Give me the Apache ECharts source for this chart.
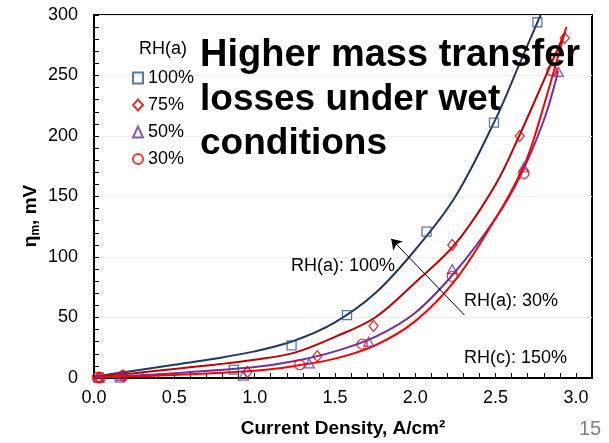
<!DOCTYPE html>
<html>
<head>
<meta charset="utf-8">
<script src="https://cdn.jsdelivr.net/npm/echarts@6/dist/echarts.min.js"></script>
<style>
html,body{margin:0;padding:0;background:#fff;}
#chart{width:609px;height:443px;}
</style>
</head>
<body>
<div id="chart"></div>
<script>
// ---- Data ----
const legendTitle = 'RH(a)';
const seriesNames = ['100%', '75%', '50%', '30%'];
const yTicks = [0, 50, 100, 150, 200, 250, 300];
const xTicks = [0.0, 0.5, 1.0, 1.5, 2.0, 2.5, 3.0];

// measured points [current density A/cm2, eta_m mV]
const pts100 = [[0.03,0.5],[0.16,0.3],[0.87,7],[1.23,27],[1.575,52],[2.07,121],[2.49,211],[2.76,294]];
const pts75  = [[0.03,0.5],[0.18,2],[0.955,5],[1.39,18],[1.74,43],[2.23,110],[2.65,200],[2.93,281]];
const pts50  = [[0.03,0.5],[0.17,1.5],[0.93,2],[1.34,12],[1.71,30],[2.23,90],[2.675,174],[2.89,253]];
const pts30  = [[0.02,0.5],[0.04,0.3],[0.18,2],[1.28,11],[1.67,28],[2.23,84],[2.675,169],[2.85,254]];

// fitted curves
const fit100 = [[0,1],[0.25,6],[0.5,11],[0.75,16],[1.0,22],[1.25,31],[1.5,46],[1.75,70],[2.0,106],[2.25,150],[2.5,214],[2.65,260],[2.78,300]];
const fit75  = [[0,1],[0.25,4],[0.5,7.5],[0.75,11],[1.0,15],[1.25,21],[1.5,34],[1.75,50],[2.0,79],[2.25,111],[2.5,160],[2.65,201],[2.8,246],[2.93,285]];
const fit50  = [[0,0.5],[0.5,4],[1.0,9],[1.25,14],[1.5,22],[1.75,34],[2.0,54],[2.25,88],[2.5,132],[2.65,166],[2.8,213],[2.89,254]];
const fit30  = [[0,0.5],[0.5,2.5],[1.0,6],[1.25,10],[1.5,16],[1.75,27],[2.0,47],[2.25,81],[2.5,132],[2.6,155],[2.7,183],[2.8,225],[2.94,290]];

// annotation arrow (data coords): tail -> head
const arrowTail = [2.306, 52];
const arrowHead = [1.85, 115];

const FONT = '"Liberation Sans", Arial, sans-serif';
const lineColors = ['#1f3864', '#c00000', '#7030a0', '#ff0000'];
const markColors = ['#2f5597', '#d00000', '#7030a0', '#ff0000'];
const symbols = ['rect', 'diamond', 'triangle', 'circle'];
const symSizes = [9, [9,11], [10,9], 10];

const chart = echarts.init(document.getElementById('chart'), null, {renderer: 'canvas'});

const pts = [pts100, pts75, pts50, pts30];
const fits = [fit100, fit75, fit50, fit30];

const series = [];
fits.forEach((f, i) => {
  series.push({
    type: 'line', name: 'fit' + i, data: f, smooth: 0.35, showSymbol: false,
    lineStyle: {color: lineColors[i], width: 2}, itemStyle: {color: lineColors[i]},
    z: 2, silent: true, clip: true
  });
});
pts.forEach((p, i) => {
  series.push({
    type: 'scatter', name: seriesNames[i], data: p, symbol: symbols[i], symbolSize: symSizes[i],
    itemStyle: {color: 'rgba(255,255,255,0)', borderColor: markColors[i], borderWidth: 1.3},
    z: 3
  });
});
// arrow annotation
series.push({
  type: 'scatter', name: 'arrow', data: [], silent: true,
  markLine: {
    silent: true, symbol: ['none', 'arrow'], symbolSize: 10,
    lineStyle: {color: '#000', width: 1, type: 'solid'},
    label: {show: false},
    emphasis: {disabled: true},
    data: [[{coord: arrowTail}, {coord: arrowHead}]]
  }
});

const option = {
  animation: false,
  backgroundColor: '#fff',
  grid: {left: 94, right: 17, top: 15, bottom: 59, show: true, borderColor: '#000', borderWidth: 2, containLabel: false},
  legend: {
    data: seriesNames, orient: 'vertical', left: 127, top: 64,
    itemWidth: 10, itemHeight: 11, itemGap: 9,
    textStyle: {fontFamily: FONT, fontSize: 18, color: '#000', lineHeight: 16},
    selectedMode: false
  },
  xAxis: {
    type: 'value', min: 0, max: 3.1, interval: 0.1,
    name: 'Current Density, A/cm²', nameLocation: 'middle', nameGap: 41,
    nameTextStyle: {fontFamily: FONT, fontSize: 19, fontWeight: 'bold', color: '#000'},
    axisLine: {show: true, lineStyle: {color: '#000', width: 2}},
    axisTick: {show: true, inside: true, length: 5, lineStyle: {color: '#000', width: 1}},
    axisLabel: {
      fontFamily: FONT, fontSize: 18, color: '#000', margin: 11, showMaxLabel: false,
      formatter: v => { const m = xTicks.find(t => Math.abs(t - v) < 1e-6); return m === undefined ? '' : m.toFixed(1); }
    },
    splitLine: {show: false}
  },
  yAxis: {
    type: 'value', min: yTicks[0], max: yTicks[yTicks.length - 1], interval: 50,
    axisLine: {show: true, lineStyle: {color: '#000', width: 2}},
    axisTick: {show: true, inside: true, length: 5, lineStyle: {color: '#000', width: 1}},
    minorTick: {show: true, splitNumber: 5, length: 5, lineStyle: {color: '#000', width: 1}},
    axisLabel: {fontFamily: FONT, fontSize: 18, color: '#000', margin: 16},
    splitLine: {show: true, lineStyle: {color: '#eeeeee', width: 1}}
  },
  graphic: [
    {type: 'text', x: 31, y: 216, rotation: Math.PI / 2, z: 10,
     style: {text: '{a|η}{s|m}{a|, mV}', align: 'center', verticalAlign: 'middle',
       rich: {
         a: {fontFamily: FONT, fontSize: 19, fontWeight: 'bold', fill: '#000'},
         s: {fontFamily: FONT, fontSize: 12, fontWeight: 'bold', fill: '#000', padding: [10, 0, 0, 0]}
       }}},
    {type: 'text', left: 139, top: 40, style: {text: legendTitle, font: '18px ' + FONT, fill: '#000'}},
    {type: 'text', x: 200, y: 56, style: {text: 'Higher mass transfer', font: 'bold 38px ' + FONT, fill: '#000', verticalAlign: 'middle'}, z: 10},
    {type: 'text', x: 200, y: 100, style: {text: 'losses under wet', font: 'bold 37px ' + FONT, fill: '#000', verticalAlign: 'middle'}, z: 10},
    {type: 'text', x: 200, y: 144, style: {text: 'conditions', font: 'bold 37px ' + FONT, fill: '#000', verticalAlign: 'middle'}, z: 10},
    {type: 'text', x: 291, y: 266, style: {text: 'RH(a): 100%', font: '18px ' + FONT, fill: '#000', verticalAlign: 'middle'}, z: 10},
    {type: 'text', x: 464, y: 301, style: {text: 'RH(a): 30%', font: '18px ' + FONT, fill: '#000', verticalAlign: 'middle'}, z: 10},
    {type: 'text', x: 464, y: 358, style: {text: 'RH(c): 150%', font: '18px ' + FONT, fill: '#000', verticalAlign: 'middle'}, z: 10},
    {type: 'text', x: 579, y: 429, style: {text: '15', font: '20px ' + FONT, fill: '#7f7f7f', verticalAlign: 'middle'}, z: 10}
  ],
  series: series
};
chart.setOption(option);
</script>
</body>
</html>
